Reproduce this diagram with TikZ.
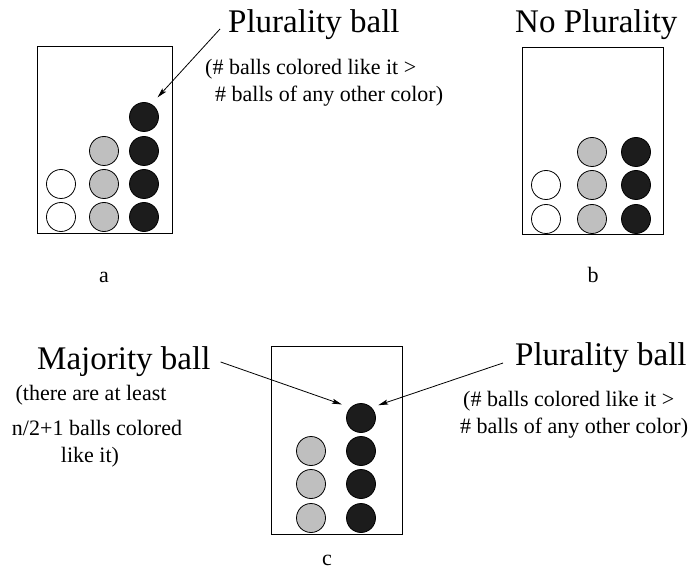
\documentclass[tikz,border=0pt]{standalone}
\usepackage{fontspec}
\setmainfont{Liberation Serif}
\usetikzlibrary{arrows.meta}
\definecolor{grau}{gray}{0.75}
\definecolor{schwarz}{gray}{0.11}
\tikzset{
  kasten/.style={draw, line width=1pt, inner sep=0pt},
  kugel/.style={circle, draw, line width=0.8pt, minimum size=29pt, inner sep=0pt},
  weiss/.style={kugel, fill=white},
  grauk/.style={kugel, fill=grau},
  schwarzk/.style={kugel, fill=schwarz},
  gross/.style={font=\fontsize{33}{36}\selectfont, inner sep=0pt},
  klein/.style={font=\fontsize{22}{26}\selectfont, inner sep=0pt},
  pfeil/.style={-{Stealth[length=10pt, width=5pt, inset=2pt]}, line width=0.8pt},
}

\begin{document}
\begin{tikzpicture}[x=1pt, y=-1pt]
    \useasboundingbox (0,0) rectangle (691,572);

    % a
    \node[kasten, minimum width=135pt, minimum height=187pt] (KA) at (104.5,140.5) {};
    \node[weiss] (aw1) at (61,217) {};
    \node[weiss] (aw2) at (61,184) {};
    \node[grauk] (ag1) at (104,217) {};
    \node[grauk] (ag2) at (104,184) {};
    \node[grauk] (ag3) at (104,151) {};
    \node[schwarzk] (as1) at (144,217) {};
    \node[schwarzk] (as2) at (144,184) {};
    \node[schwarzk] (as3) at (144,151) {};
    \node[schwarzk] (as4) at (144,117) {};
    \node[gross, anchor=base west] (PA) at (228,33) {Plurality ball};
    \node[klein, anchor=base west] (PA1) at (205,75) {(\# balls colored like it >};
    \node[klein, anchor=base west] (PA2) at (215,102) {\# balls of any other color)};
    \node[klein, anchor=base] (LA) at (104,283) {a};
    \draw[pfeil, shorten >=9pt] ([shift={(-8,-4)}]PA.base west) -- (as4.60);

    % b
    \node[kasten, minimum width=141pt, minimum height=187pt] (KB) at (592.5,141.5) {};
    \node[weiss] (bw1) at (546,219) {};
    \node[weiss] (bw2) at (546,185) {};
    \node[grauk] (bg1) at (592,219) {};
    \node[grauk] (bg2) at (592,185) {};
    \node[grauk] (bg3) at (592,152) {};
    \node[schwarzk] (bs1) at (636,219) {};
    \node[schwarzk] (bs2) at (636,185) {};
    \node[schwarzk] (bs3) at (636,152) {};
    \node[gross, anchor=base west] (NB) at (515,33) {No Plurality};
    \node[klein, anchor=base] (LB) at (593,283) {b};

    % c
    \node[kasten, minimum width=131pt, minimum height=188pt] (KC) at (336.5,440) {};
    \node[grauk] (cg1) at (311,518) {};
    \node[grauk] (cg2) at (311,484) {};
    \node[grauk] (cg3) at (311,451) {};
    \node[schwarzk] (cs1) at (361,518) {};
    \node[schwarzk] (cs2) at (361,484) {};
    \node[schwarzk] (cs3) at (361,451) {};
    \node[schwarzk] (cs4) at (361,418) {};
    \node[gross, anchor=base west] (MC) at (37,369) {Majority ball};
    \node[klein, anchor=base] (MC1) at (91,400) {(there are at least};
    \node[klein, anchor=base] (MC2) at (97,435) {n/2+1 balls colored};
    \node[klein, anchor=base] (MC3) at (90,462) {like it)};
    \node[gross, anchor=base west] (PC) at (515,365) {Plurality ball};
    \node[klein, anchor=base west] (PC1) at (463,406) {(\# balls colored like it >};
    \node[klein, anchor=base west] (PC2) at (460,433) {\# balls of any other color)};
    \node[klein, anchor=base] (LC) at (327,565) {c};
    \draw[pfeil, shorten >=9pt] ([shift={(10,-7)}]MC.base east) -- (cs4.north west);
    \draw[pfeil, shorten >=7pt] ([shift={(-12,-2)}]PC.base west) -- (cs4.north east);
  \end{tikzpicture}
\end{document}
